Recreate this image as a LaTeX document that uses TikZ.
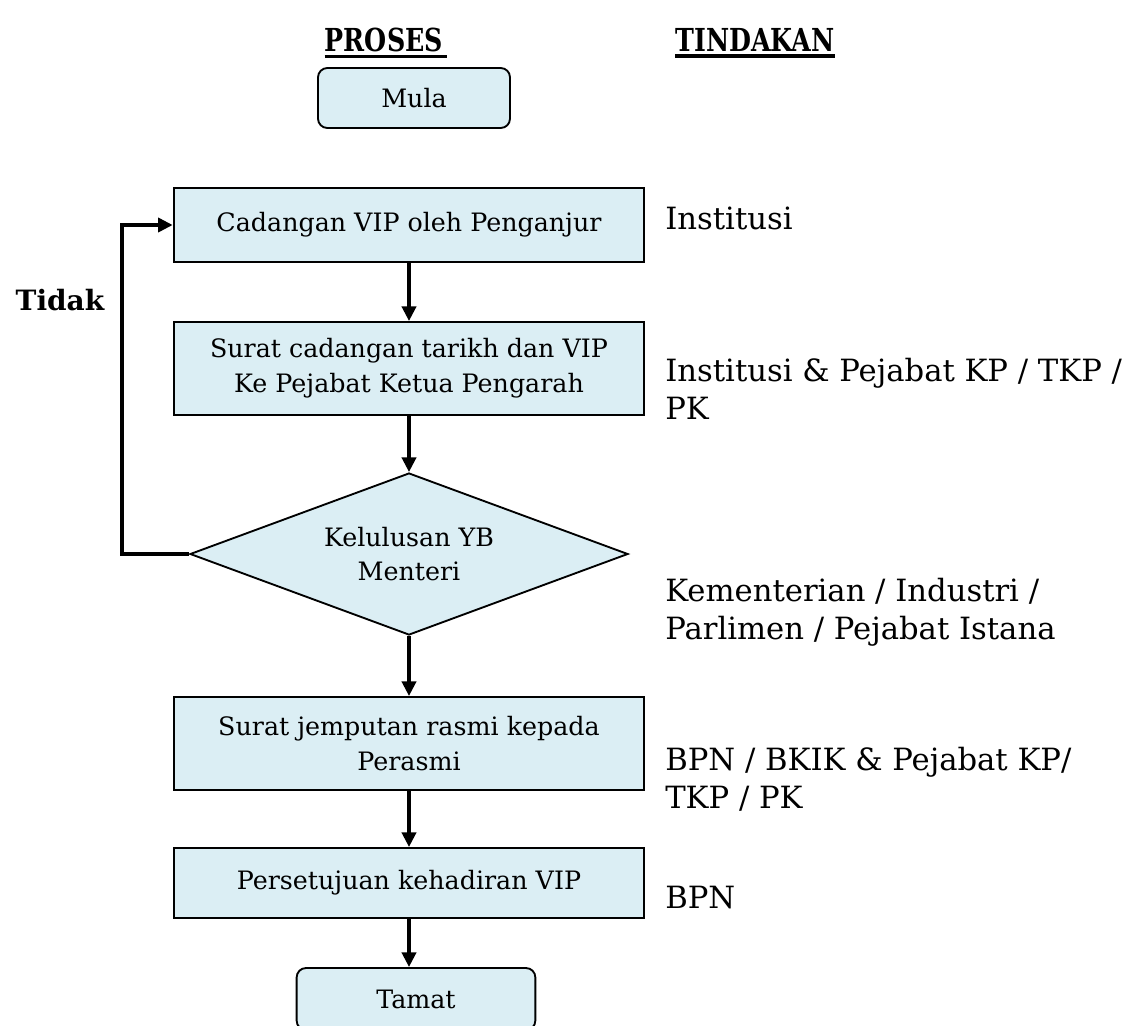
\documentclass[tikz,border=0pt]{standalone}
\usepackage{fontspec}
\setmainfont{DejaVu Serif}
\usetikzlibrary{shapes.geometric,arrows.meta}

\definecolor{boxblue}{HTML}{DBEEF4}

\begin{document}
\begin{tikzpicture}[x=0.75pt, y=-0.75pt,
    process/.style={draw, rectangle, line width=1.4pt, fill=boxblue,
      minimum width=353pt, align=center, inner sep=2pt,
      font=\fontsize{19}{26}\selectfont},
    terminal/.style={process, rounded corners=7pt},
    decision/.style={draw, diamond, aspect=2.7, line width=1.4pt, fill=boxblue,
      minimum width=328.5pt, minimum height=121.5pt, inner sep=0pt,
      align=center, font=\fontsize{19}{26}\selectfont},
    flow/.style={-{Triangle[length=11pt,width=10.5pt]}, line width=3pt},
    actor/.style={anchor=west, align=left, inner sep=0pt,
      font=\fontsize{23}{28.5}\selectfont},
    heading/.style={inner sep=0pt, yscale=1.25, transform shape,
      font=\fontsize{19}{22}\selectfont\bfseries}]

    \useasboundingbox (0,0) rectangle (1144,1025);
    \clip (0,0) rectangle (1144,1025);

    % Column headings
    \node[heading] (proses) at (386,40) {PROSES\,};
    \node[heading] (tindakan) at (755,40) {TINDAKAN};
    \draw[line width=2.6pt] ([yshift=-3pt]proses.south west) -- ([yshift=-3pt]proses.south east);
    \draw[line width=2.6pt] ([yshift=-3pt]tindakan.south west) -- ([yshift=-3pt]tindakan.south east);

    % Process steps
    \node[terminal, minimum width=144pt, minimum height=45pt] (mula) at (414,98) {Mula};
    \node[process, minimum height=55.5pt] (cadangan) at (409,225) {Cadangan VIP oleh Penganjur};
    \node[process, minimum height=69.75pt] (surat) at (409,368.5) {Surat cadangan tarikh dan VIP\\Ke Pejabat Ketua Pengarah};
    \node[decision] (lulus) at (409,554) {Kelulusan YB\\Menteri};
    \node[process, minimum height=69.75pt] (jemputan) at (409,743.5) {Surat jemputan rasmi kepada\\Perasmi};
    \node[process, minimum height=52.5pt] (setuju) at (409,883) {Persetujuan kehadiran VIP};
    \node[terminal, minimum width=179pt, minimum height=46.5pt] (tamat) at (416,999) {Tamat};

    % Connections
    \draw[flow] (cadangan) -- (surat);
    \draw[flow] (surat) -- (lulus);
    \draw[flow] (lulus) -- (jemputan);
    \draw[flow] (jemputan) -- (setuju);
    \draw[flow] (setuju.south) -- (setuju.south |- tamat.north);

    % Loop back
    \coordinate (balik) at (122,554);
    \draw[flow] (lulus.west) -- (balik) |- (cadangan.west);
    \node[heading, yscale=0.8, font=\fontsize{21}{22}\selectfont\bfseries] (tidak) at (60,300) {Tidak};

    % Action column
    \node[actor] (t1) at (665,218) {Institusi};
    \node[actor] (t2) at (665,389) {Institusi \& Pejabat KP / TKP /\\PK};
    \node[actor] (t3) at (665,612) {Kementerian / Industri /\\Parlimen / Pejabat Istana};
    \node[actor] (t4) at (665,779) {BPN / BKIK \& Pejabat KP/\\TKP / PK};
    \node[actor] (t5) at (665,898) {BPN};
\end{tikzpicture}
\end{document}
